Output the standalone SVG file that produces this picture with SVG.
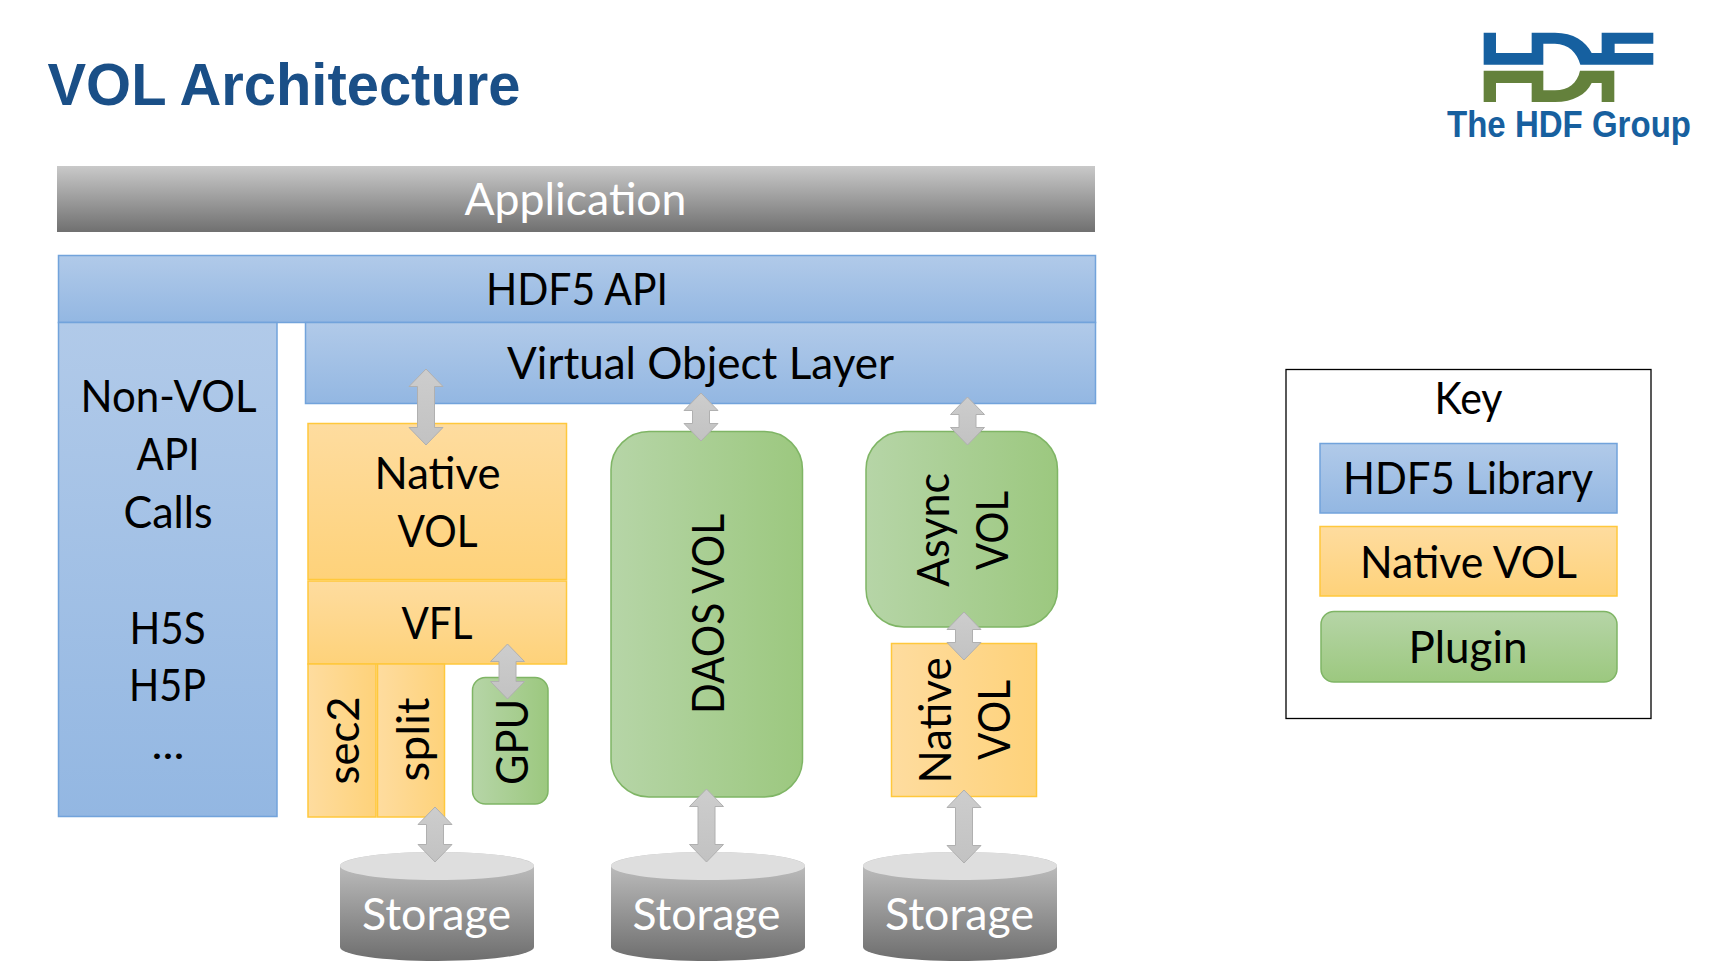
<svg xmlns="http://www.w3.org/2000/svg" width="1720" height="972" viewBox="0 0 1720 972">
<style>
text{font-family:"Lato","Carlito","Noto Sans",sans-serif;font-size:45px;fill:#000;text-anchor:middle}
.w{fill:#fff}
.hd{font-family:"Liberation Sans",Arial,sans-serif;font-weight:700;text-anchor:start}
.b{fill:url(#blueV);stroke:#72a3db;stroke-width:1.5}
.o{fill:url(#orangeV);stroke:#ffc83c;stroke-width:1.5}
.oh{fill:url(#orangeH);stroke:#ffc83c;stroke-width:1.5}
.g{fill:url(#greenH);stroke:#7fb565;stroke-width:1.5}
.gv{fill:url(#greenV);stroke:#7fb565;stroke-width:1.5}
.cyl{fill:url(#cylSide)}
.cap{fill:#dedede}
#connectors path{fill:url(#arrowV);stroke:#b0b0b0;stroke-width:1}
</style>
<defs>
<linearGradient id="blueV" x1="0" y1="0" x2="0" y2="1"><stop offset="0" stop-color="#b1cae9"/><stop offset="1" stop-color="#93b7e2"/></linearGradient>
<linearGradient id="orangeV" x1="0" y1="0" x2="0" y2="1"><stop offset="0" stop-color="#fedc9f"/><stop offset="1" stop-color="#fed27a"/></linearGradient>
<linearGradient id="orangeH" x1="0" y1="0" x2="1" y2="0"><stop offset="0" stop-color="#fedc9f"/><stop offset="1" stop-color="#fed27a"/></linearGradient>
<linearGradient id="greenH" x1="0" y1="0" x2="1" y2="0"><stop offset="0" stop-color="#b6d5a7"/><stop offset="1" stop-color="#9cc87f"/></linearGradient>
<linearGradient id="greenV" x1="0" y1="0" x2="0" y2="1"><stop offset="0" stop-color="#b6d5a7"/><stop offset="1" stop-color="#9cc87f"/></linearGradient>
<linearGradient id="greyV" x1="0" y1="0" x2="0" y2="1"><stop offset="0" stop-color="#c9c9c9"/><stop offset="1" stop-color="#707070"/></linearGradient>
<linearGradient id="cylSide" x1="0" y1="0" x2="0" y2="1"><stop offset="0" stop-color="#c6c6c6"/><stop offset="1" stop-color="#6e6e6e"/></linearGradient>
<linearGradient id="arrowV" x1="0" y1="0" x2="0" y2="1"><stop offset="0" stop-color="#cdcdcd"/><stop offset="1" stop-color="#c2c2c2"/></linearGradient>
<path id="cylinder" d="M0,14C0,6 43,0 97,0S194,6 194,14V95C194,103 151,109 97,109S0,103 0,95Z"/>
<ellipse id="cylcap" cx="97" cy="14" rx="97" ry="14"/>
</defs>
<rect width="1720" height="972" fill="#fff"/>

<g id="title"><text class="hd" x="47.500" y="105" style="font-size:60px;fill:#1a4f87" textLength="473" lengthAdjust="spacingAndGlyphs">VOL Architecture</text></g>

<g id="logo">
<g transform="translate(1480,28) scale(0.3333)">
<path fill="#1660a0" d="M11,14H48V75H155V14H225C280,14 318,40 335,75H365V14H520V47H404V75H520V110H301C292,75 265,47 225,47H190V110H11Z"/>
<path fill="#64813c" d="M11,128H190V187H225C265,187 292,165 300,128H403V222H365V165H335C318,200 280,222 225,222H155V165H48V222H11Z"/>
</g>
<text class="hd" x="1447" y="137" style="font-size:37px;fill:#17609f" textLength="244" lengthAdjust="spacingAndGlyphs">The HDF Group</text>
</g>

<g id="application"><rect x="57" y="166" width="1038" height="66" fill="url(#greyV)"/><text class="w" x="575.500" y="215" textLength="222" lengthAdjust="spacingAndGlyphs">Application</text></g>

<g id="hdf5-api"><rect class="b" x="58.500" y="255.500" width="1037" height="67"/><text x="577" y="305" textLength="182" lengthAdjust="spacingAndGlyphs">HDF5 API</text></g>

<g id="vol-layer"><rect class="b" x="305.500" y="322.500" width="790" height="81"/><text x="700.500" y="379" textLength="387" lengthAdjust="spacingAndGlyphs">Virtual Object Layer</text></g>

<g id="non-vol"><rect class="b" x="58.500" y="322.500" width="218.500" height="494"/>
<text x="168.500" y="412" textLength="176" lengthAdjust="spacingAndGlyphs">Non-VOL</text>
<text x="168" y="470" textLength="63" lengthAdjust="spacingAndGlyphs">API</text>
<text x="168" y="528" textLength="89" lengthAdjust="spacingAndGlyphs">Calls</text>
<text x="167.500" y="644" textLength="76" lengthAdjust="spacingAndGlyphs">H5S</text>
<text x="167.500" y="701" textLength="77" lengthAdjust="spacingAndGlyphs">H5P</text>
<text x="168" y="759" textLength="33" lengthAdjust="spacingAndGlyphs">...</text></g>

<g id="native-vol"><rect class="o" x="308" y="423.500" width="258.500" height="156"/>
<text x="437.500" y="489" textLength="126" lengthAdjust="spacingAndGlyphs">Native</text>
<text x="437.500" y="547" textLength="80" lengthAdjust="spacingAndGlyphs">VOL</text></g>

<g id="vfl"><rect class="o" x="308" y="581" width="258.500" height="83"/><text x="437" y="639" textLength="71" lengthAdjust="spacingAndGlyphs">VFL</text></g>

<g id="sec2"><rect class="oh" x="308" y="664" width="68" height="153"/><text transform="translate(359,740.500) rotate(-90)" textLength="88" lengthAdjust="spacingAndGlyphs">sec2</text></g>

<g id="split"><rect class="oh" x="377.500" y="664" width="67" height="153"/><text transform="translate(429,739.500) rotate(-90)" textLength="84" lengthAdjust="spacingAndGlyphs">split</text></g>

<g id="gpu"><rect class="g" x="472.500" y="677.500" width="75.500" height="126.500" rx="13"/><text transform="translate(528,742) rotate(-90)" textLength="86" lengthAdjust="spacingAndGlyphs">GPU</text></g>

<g id="daos-vol"><rect class="g" x="611" y="431.500" width="191.500" height="365.500" rx="38"/><text transform="translate(724,614) rotate(-90)" textLength="200" lengthAdjust="spacingAndGlyphs">DAOS VOL</text></g>

<g id="async-vol"><rect class="g" x="866" y="431.500" width="191.500" height="195.500" rx="38"/>
<text transform="translate(949,530) rotate(-90)" textLength="114" lengthAdjust="spacingAndGlyphs">Async</text>
<text transform="translate(1008,530.500) rotate(-90)" textLength="79" lengthAdjust="spacingAndGlyphs">VOL</text></g>

<g id="native-vol-2"><rect class="oh" x="891.500" y="643.500" width="145" height="153"/>
<text transform="translate(950.500,720.500) rotate(-90)" textLength="126" lengthAdjust="spacingAndGlyphs">Native</text>
<text transform="translate(1010,720) rotate(-90)" textLength="80" lengthAdjust="spacingAndGlyphs">VOL</text></g>

<g id="storage-1"><g transform="translate(340,852)"><use href="#cylinder" class="cyl"/><use href="#cylcap" class="cap"/></g><text class="w" x="436.500" y="930" textLength="149" lengthAdjust="spacingAndGlyphs">Storage</text></g>
<g id="storage-2"><g transform="translate(611,852)"><use href="#cylinder" class="cyl"/><use href="#cylcap" class="cap"/></g><text class="w" x="706.500" y="930" textLength="148" lengthAdjust="spacingAndGlyphs">Storage</text></g>
<g id="storage-3"><g transform="translate(863,852)"><use href="#cylinder" class="cyl"/><use href="#cylcap" class="cap"/></g><text class="w" x="959.500" y="930" textLength="149" lengthAdjust="spacingAndGlyphs">Storage</text></g>

<g id="key"><rect x="1286" y="369.500" width="365" height="349" fill="#fff" stroke="#000" stroke-width="1.300"/><text x="1468.500" y="413.500" textLength="68" lengthAdjust="spacingAndGlyphs">Key</text></g>
<g id="key-hdf5"><rect class="b" x="1320" y="443.500" width="297" height="69.500"/><text x="1468" y="494" textLength="250" lengthAdjust="spacingAndGlyphs">HDF5 Library</text></g>
<g id="key-native"><rect class="o" x="1320" y="526.500" width="297" height="69.500"/><text x="1468.500" y="578" textLength="217" lengthAdjust="spacingAndGlyphs">Native VOL</text></g>
<g id="key-plugin"><rect class="gv" x="1321" y="611.500" width="296" height="70.500" rx="13"/><text x="1468" y="663" textLength="119" lengthAdjust="spacingAndGlyphs">Plugin</text></g>

<g id="connectors">
<path d="M426,369l17,17.500h-8.500V427.500h8.500L426,445l-17,-17.500h8.500V386.500h-8.500z"/>
<path d="M701,393l17,17.500h-8.500V423.500h8.500L701,441l-17,-17.500h8.500V410.500h-8.500z"/>
<path d="M967.500,397l17,17.500h-8.500V427.500h8.500L967.500,445l-17,-17.500h8.500V414.500h-8.500z"/>
<path d="M964,612l17,17.500h-8.500V642.500h8.500L964,660l-17,-17.500h8.500V629.500h-8.500z"/>
<path d="M964,790l17,17.500h-8.500V845.500h8.500L964,863l-17,-17.500h8.500V807.500h-8.500z"/>
<path d="M706.500,789l17,17.500h-8.500V844.500h8.500L706.500,862l-17,-17.500h8.500V806.500h-8.500z"/>
<path d="M435,807l17,17.500h-8.500V844.500h8.500L435,862l-17,-17.500h8.500V824.500h-8.500z"/>
<path d="M507.500,644l17,17.500h-8.500V681.500h8.500L507.500,699l-17,-17.500h8.500V661.500h-8.500z"/>
</g>
</svg>
